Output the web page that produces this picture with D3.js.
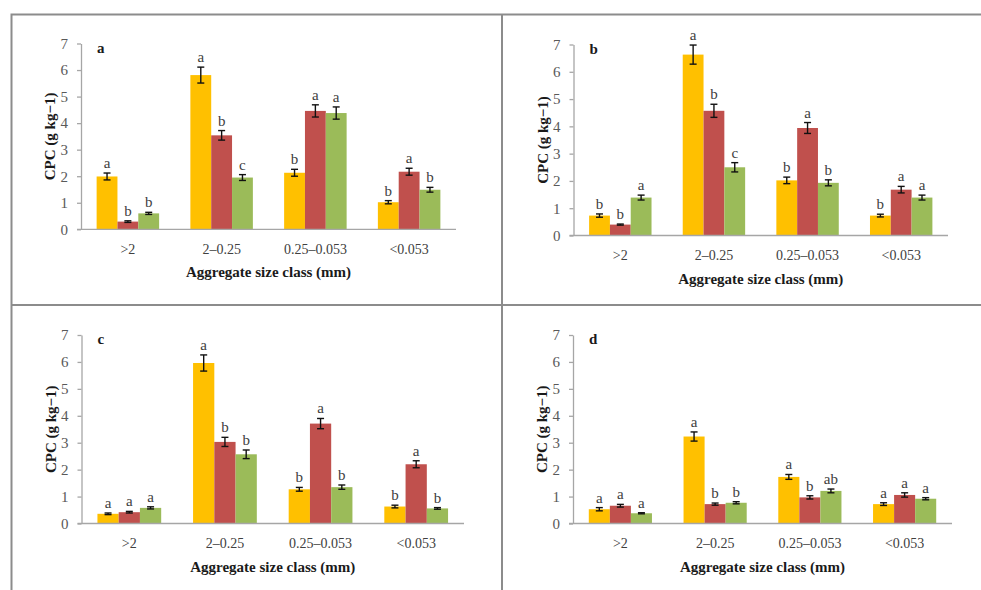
<!DOCTYPE html>
<html>
<head>
<meta charset="utf-8">
<script src="https://cdn.jsdelivr.net/npm/d3@7"></script>
<style>
  html, body { margin: 0; padding: 0; background: #fff; }
  svg { display: block; }
</style>
</head>
<body>
<svg id="chart" width="981" height="590"></svg>
<script>
// Four-panel grouped bar chart: CPC by aggregate size class, three series per class, SE bars + letters.

const categories = [">2", "2–0.25", "0.25–0.053", "<0.053"];
const seriesColors = ["#ffc000", "#c0504d", "#9bbb59"];
const yTicks = [0, 1, 2, 3, 4, 5, 6, 7];

// values[category][series]
const valuesA = [[1.99, 0.29, 0.60], [5.81, 3.54, 1.95], [2.13, 4.46, 4.38], [1.02, 2.17, 1.49]];
const errorsA = [[0.13, 0.03, 0.04], [0.30, 0.18, 0.11], [0.13, 0.23, 0.23], [0.06, 0.13, 0.09]];
const lettersA = [["a", "b", "b"], ["a", "b", "c"], ["b", "a", "a"], ["b", "a", "b"]];

const valuesB = [[0.73, 0.40, 1.39], [6.63, 4.57, 2.50], [2.02, 3.94, 1.93], [0.73, 1.68, 1.39]];
const errorsB = [[0.06, 0.02, 0.09], [0.35, 0.24, 0.17], [0.12, 0.20, 0.11], [0.05, 0.12, 0.09]];
const lettersB = [["b", "b", "a"], ["a", "b", "c"], ["b", "a", "b"], ["b", "a", "a"]];

const valuesC = [[0.36, 0.42, 0.58], [5.96, 3.03, 2.57], [1.27, 3.71, 1.35], [0.63, 2.20, 0.56]];
const errorsC = [[0.03, 0.03, 0.04], [0.30, 0.17, 0.16], [0.07, 0.19, 0.08], [0.05, 0.13, 0.03]];
const lettersC = [["a", "a", "a"], ["a", "b", "b"], ["b", "a", "b"], ["b", "a", "b"]];

const valuesD = [[0.53, 0.66, 0.38], [3.23, 0.72, 0.77], [1.73, 0.97, 1.21], [0.72, 1.06, 0.92]];
const errorsD = [[0.06, 0.05, 0.02], [0.17, 0.04, 0.04], [0.09, 0.06, 0.07], [0.05, 0.08, 0.04]];
const lettersD = [["a", "a", "a"], ["a", "b", "b"], ["a", "b", "ab"], ["a", "a", "a"]];

const FONT = "'Liberation Serif', 'Times New Roman', serif";

const panels = [
  { id: "a", values: valuesA, errors: errorsA, letters: lettersA, x0: 81, x1: 456, yBase: 229.3, yTop: 43.5 },
  { id: "b", values: valuesB, errors: errorsB, letters: lettersB, x0: 573.5, x1: 948, yBase: 235.5, yTop: 44.5 },
  { id: "c", values: valuesC, errors: errorsC, letters: lettersC, x0: 81.5, x1: 464, yBase: 523.5, yTop: 335 },
  { id: "d", values: valuesD, errors: errorsD, letters: lettersD, x0: 573, x1: 952, yBase: 523.5, yTop: 335 },
];

const svg = d3.select("#chart");

// outer frame and dividers (cut off at right/bottom like the scan)
svg.append("rect").attr("x", 11.5).attr("y", 14.5).attr("width", 1000).attr("height", 600)
  .attr("fill", "none").attr("stroke", "#8c8c8c").attr("stroke-width", 2);
svg.append("line").attr("x1", 11.5).attr("x2", 981).attr("y1", 305).attr("y2", 305)
  .attr("stroke", "#8c8c8c").attr("stroke-width", 2);
svg.append("line").attr("x1", 502).attr("x2", 502).attr("y1", 14.5).attr("y2", 590)
  .attr("stroke", "#8c8c8c").attr("stroke-width", 2);

panels.forEach((p) => {
  const g = svg.append("g");

  const x = d3.scaleBand().domain(categories).range([p.x0, p.x1])
    .paddingInner(1 / 3).paddingOuter(1 / 6);
  const xs = d3.scaleBand().domain(d3.range(3)).range([0, x.bandwidth()]);
  const y = d3.scaleLinear().domain([0, 7]).range([p.yBase, p.yTop]);

  // y axis
  g.append("g").attr("transform", `translate(${p.x0},0)`)
    .call(d3.axisLeft(y).tickValues(yTicks).tickFormat(d3.format("d"))
      .tickSize(4).tickPadding(9).tickSizeOuter(0))
    .call((s) => s.select(".domain").attr("stroke", "#a6a6a6").attr("stroke-width", 1.3))
    .call((s) => s.selectAll(".tick line").attr("stroke", "#a6a6a6").attr("stroke-width", 1.3))
    .call((s) => s.selectAll("text").style("font", `15px ${FONT}`).style("fill", "#595959"));

  // bars
  const grp = g.selectAll("g.cat").data(categories).enter().append("g")
    .attr("class", "cat")
    .attr("transform", (c) => `translate(${x(c)},0)`);

  grp.each(function (c, ci) {
    const cell = d3.select(this);
    const rows = p.values[ci].map((v, si) => ({
      v, si, e: p.errors[ci][si], l: p.letters[ci][si],
    }));
    cell.selectAll("rect").data(rows).enter().append("rect")
      .attr("x", (d) => xs(d.si))
      .attr("width", xs.bandwidth())
      .attr("y", (d) => y(d.v))
      .attr("height", (d) => y(0) - y(d.v))
      .attr("fill", (d) => seriesColors[d.si]);

    const err = cell.selectAll("g.err").data(rows).enter().append("g").attr("class", "err")
      .attr("transform", (d) => `translate(${xs(d.si) + xs.bandwidth() / 2},0)`)
      .attr("stroke", "#111").attr("stroke-width", 1.4);
    err.append("line").attr("y1", (d) => y(d.v - d.e)).attr("y2", (d) => y(d.v + d.e));
    err.append("line").attr("x1", -3.5).attr("x2", 3.5)
      .attr("y1", (d) => y(d.v + d.e)).attr("y2", (d) => y(d.v + d.e));
    err.append("line").attr("x1", -3.5).attr("x2", 3.5)
      .attr("y1", (d) => y(d.v - d.e)).attr("y2", (d) => y(d.v - d.e));

    cell.selectAll("text.sig").data(rows).enter().append("text").attr("class", "sig")
      .attr("x", (d) => xs(d.si) + xs.bandwidth() / 2)
      .attr("y", (d) => y(d.v + d.e) - 5)
      .attr("text-anchor", "middle")
      .style("font", `15px ${FONT}`).style("fill", "#404040")
      .text((d) => d.l);
  });

  // x axis
  g.append("g").attr("transform", `translate(0,${p.yBase})`)
    .call(d3.axisBottom(x).tickSize(0).tickPadding(15).tickSizeOuter(0))
    .call((s) => s.select(".domain").attr("stroke", "#a6a6a6").attr("stroke-width", 1.3)
      .attr("d", `M${p.x0 - 4},0H${p.x1}`))
    .call((s) => s.selectAll("text").style("font", `14px ${FONT}`).style("fill", "#404040"));

  // titles
  g.append("text").attr("x", (p.x0 + p.x1) / 2).attr("y", p.yBase + 48)
    .attr("text-anchor", "middle")
    .style("font", `bold 15px ${FONT}`).style("fill", "#1a1a1a")
    .text("Aggregate size class (mm)");
  g.append("text")
    .attr("transform", `translate(${p.x0 - 26},${(p.yBase + p.yTop) / 2}) rotate(-90)`)
    .attr("text-anchor", "middle")
    .style("font", `bold 15px ${FONT}`).style("fill", "#1a1a1a")
    .text("CPC (g kg−1)");
  g.append("text").attr("x", p.x0 + 16).attr("y", p.yTop + 9)
    .style("font", `bold 15px ${FONT}`).style("fill", "#1a1a1a")
    .text(p.id);
});
</script>
</body>
</html>
